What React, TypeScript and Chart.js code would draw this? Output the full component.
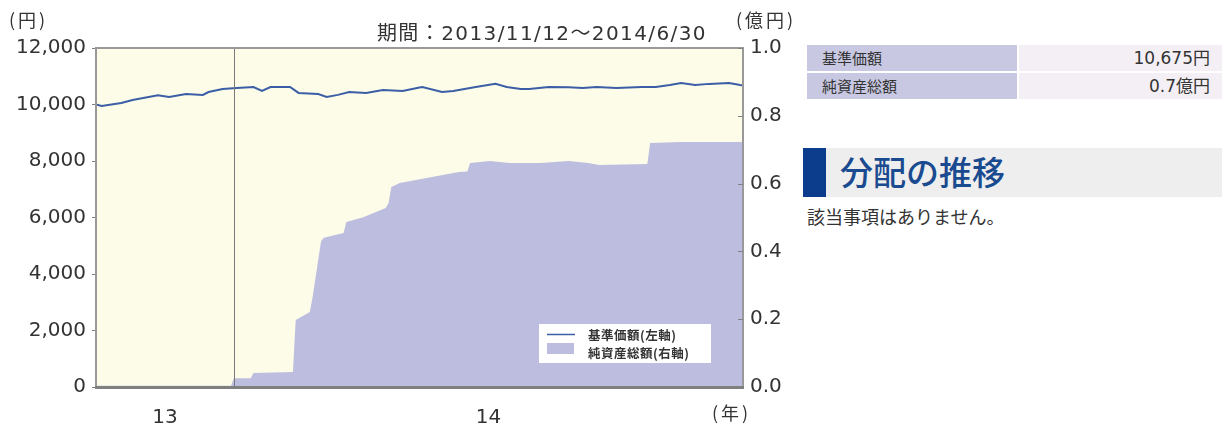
import React, { useEffect, useRef } from "react";
import { Chart, registerables } from "chart.js";

Chart.register(...registerables);

// days since 2013/11/12 (last day = 2014/6/30)
const periodLabel = "期間：2013/11/12～2014/6/30";
const totalDays = 230;
const yearBoundaryDay = 49; // 2014/1/1
const yearLabels = ["13", "14"];

const navDays = [0, 2, 9, 13, 22, 26, 32, 38, 40, 45, 50, 56, 59, 62, 69, 72, 79, 82, 86, 90, 96, 102, 109, 115, 116, 123, 127, 135, 142, 146, 151, 154, 161, 168, 173, 178, 185, 194, 199, 204, 208, 213, 218, 225, 229, 230];
const navValues = [10000, 9950, 10050, 10160, 10330, 10270, 10370, 10340, 10440, 10550, 10580, 10620, 10480, 10620, 10620, 10410, 10370, 10270, 10340, 10440, 10410, 10510, 10480, 10600, 10620, 10440, 10480, 10620, 10730, 10620, 10550, 10550, 10620, 10610, 10580, 10620, 10580, 10620, 10620, 10690, 10760, 10690, 10730, 10760, 10690, 10675];

const assetDays = [0, 48, 49, 55, 56, 70, 71, 76, 77, 80, 81, 88, 89, 95, 103, 104, 105, 108, 118, 129, 132, 133, 140, 147, 158, 168, 175, 179, 196, 197, 208, 230];
const assetValues = [0.004, 0.004, 0.026, 0.026, 0.041, 0.044, 0.198, 0.221, 0.265, 0.43, 0.44, 0.454, 0.487, 0.501, 0.528, 0.543, 0.59, 0.602, 0.617, 0.634, 0.636, 0.661, 0.667, 0.661, 0.661, 0.667, 0.661, 0.655, 0.658, 0.72, 0.723, 0.723];

const leftTicks = { min: 0, max: 12000, step: 2000 };
const rightTicks = { min: 0, max: 1, step: 0.2 };

const seriesNames = ["基準価額(左軸)", "純資産総額(右軸)"];
const tableLabels = ["基準価額", "純資産総額"];
const tableValues = ["10,675円", "0.7億円"];

const LINE_COLOR = "#3b5ea6";
const FILL_COLOR = "#bdbde0";
const PLOT_BG = "#fcfce8";
const AXIS_FONT = "'DejaVu Sans', 'Noto Sans CJK JP', sans-serif";
const JP_FONT = "'Noto Sans CJK JP', 'DejaVu Sans', sans-serif";

const chartDecor = {
  id: "chartDecor",
  beforeDatasetsDraw(chart: any) {
    const { ctx, chartArea: a } = chart;
    ctx.save();
    ctx.fillStyle = PLOT_BG;
    ctx.fillRect(a.left, a.top, a.right - a.left, a.bottom - a.top);
    ctx.restore();
  },
  afterDatasetsDraw(chart: any) {
    const { ctx, chartArea: a, scales } = chart;
    ctx.save();
    // year boundary
    const bx = Math.round(scales.x.getPixelForValue(yearBoundaryDay)) + 0.5;
    ctx.strokeStyle = "#7a7a7a";
    ctx.lineWidth = 1;
    ctx.beginPath();
    ctx.moveTo(bx, a.top);
    ctx.lineTo(bx, a.bottom);
    ctx.stroke();
    // border
    ctx.strokeStyle = "#999999";
    ctx.lineWidth = 2;
    ctx.strokeRect(a.left, a.top, a.right - a.left, a.bottom - a.top);
    ctx.strokeStyle = "#808080";
    ctx.lineWidth = 3;
    ctx.beginPath();
    ctx.moveTo(a.left - 1, a.bottom + 0.5);
    ctx.lineTo(a.right + 1, a.bottom + 0.5);
    ctx.stroke();
    // right axis inner ticks
    ctx.strokeStyle = "#808080";
    ctx.lineWidth = 1;
    const y1 = scales.y1;
    for (let v = rightTicks.min; v <= rightTicks.max + 1e-9; v += rightTicks.step) {
      const py = Math.round(y1.getPixelForValue(v)) + 0.5;
      ctx.beginPath();
      ctx.moveTo(a.right - 5, py);
      ctx.lineTo(a.right, py);
      ctx.stroke();
    }
    // legend
    const lx = a.right - 204;
    const ly = a.bottom - 63;
    ctx.fillStyle = "#ffffff";
    ctx.fillRect(lx, ly, 172, 39);
    ctx.strokeStyle = LINE_COLOR;
    ctx.lineWidth = 1.5;
    ctx.beginPath();
    ctx.moveTo(lx + 8, ly + 10.5);
    ctx.lineTo(lx + 36, ly + 10.5);
    ctx.stroke();
    ctx.fillStyle = FILL_COLOR;
    ctx.fillRect(lx + 8, ly + 19, 27, 11);
    ctx.fillStyle = "#333333";
    ctx.font = "bold 12.5px " + JP_FONT;
    ctx.textBaseline = "middle";
    ctx.textAlign = "left";
    (ctx as any).letterSpacing = "0.5px";
    ctx.fillText(seriesNames[0], lx + 49, ly + 11);
    ctx.fillText(seriesNames[1], lx + 49, ly + 29);
    ctx.restore();
  },
};

function ChartPanel() {
  const ref = useRef<HTMLCanvasElement | null>(null);
  useEffect(() => {
    if (!ref.current) return;
    const navData = navDays.map((d, i) => ({ x: d, y: navValues[i] }));
    const assetData = assetDays.map((d, i) => ({ x: d, y: assetValues[i] }));
    const chart = new Chart(ref.current, {
      type: "line",
      data: {
        datasets: [
          {
            label: seriesNames[0],
            data: navData,
            yAxisID: "y",
            borderColor: LINE_COLOR,
            borderWidth: 2,
            pointRadius: 0,
            tension: 0,
            fill: false,
          },
          {
            label: seriesNames[1],
            data: assetData,
            yAxisID: "y1",
            borderColor: FILL_COLOR,
            backgroundColor: FILL_COLOR,
            borderWidth: 0,
            pointRadius: 0,
            tension: 0,
            fill: "origin",
          },
        ],
      },
      options: {
        animation: false,
        responsive: false,
        maintainAspectRatio: false,
        layout: { padding: { top: 48, left: 0, right: 0, bottom: 0 } },
        plugins: { legend: { display: false }, tooltip: { enabled: false } },
        scales: {
          x: {
            type: "linear",
            min: 0,
            max: totalDays,
            grid: { display: false },
            border: { display: false },
            afterBuildTicks: (scale: any) => {
              scale.ticks = [
                { value: yearBoundaryDay / 2 },
                { value: (yearBoundaryDay + totalDays) / 2 },
              ];
            },
            afterFit: (scale: any) => {
              scale.height = 41;
            },
            ticks: {
              autoSkip: false,
              maxRotation: 0,
              padding: 11,
              color: "#333333",
              font: { family: AXIS_FONT, size: 20 },
              callback: (_v: any, i: number) => yearLabels[i],
            },
          },
          y: {
            position: "left",
            min: leftTicks.min,
            max: leftTicks.max,
            afterFit: (scale: any) => {
              scale.width = 96;
            },
            grid: { drawOnChartArea: false, tickLength: 4, color: "#808080" },
            border: { display: false },
            ticks: {
              stepSize: leftTicks.step,
              padding: 6,
              color: "#333333",
              font: { family: AXIS_FONT, size: 20 },
              callback: (v: any) => Number(v).toLocaleString("en-US"),
            },
          },
          y1: {
            position: "right",
            min: rightTicks.min,
            max: rightTicks.max,
            afterFit: (scale: any) => {
              scale.width = 57;
            },
            grid: { drawOnChartArea: false, drawTicks: false },
            border: { display: false },
            ticks: {
              stepSize: rightTicks.step,
              padding: 7,
              color: "#333333",
              font: { family: AXIS_FONT, size: 20 },
              callback: (v: any) => Number(v).toFixed(1),
            },
          },
        },
      },
      plugins: [chartDecor],
    } as any);
    return () => chart.destroy();
  }, []);
  return <canvas ref={ref} width={800} height={428} style={{ position: "absolute", left: 0, top: 0, width: 800, height: 428 }} />;
}

export default function App() {
  useEffect(() => {
    document.body.style.margin = "0";
  }, []);
  const txt: React.CSSProperties = { position: "absolute", color: "#333", whiteSpace: "nowrap", lineHeight: 1 };
  return (
    <div style={{ position: "fixed", left: 0, top: 0, width: 1222, height: 428, background: "#fff", overflow: "hidden" }}>
      <ChartPanel />
      <div style={{ ...txt, left: 9, top: 10, fontSize: 18, letterSpacing: 3, fontFamily: JP_FONT }}>(円)</div>
      <div style={{ ...txt, left: 736, top: 10, fontSize: 18, letterSpacing: 3, fontFamily: JP_FONT }}>(億円)</div>
      <div style={{ ...txt, right: 1222 - 707, top: 23, fontSize: 20, letterSpacing: 1.4, fontFamily: AXIS_FONT }}>{periodLabel}</div>
      <div style={{ ...txt, left: 712, top: 403, fontSize: 18, letterSpacing: 3, fontFamily: JP_FONT }}>(年)</div>

      {/* right panel table */}
      <div style={{ position: "absolute", left: 807, top: 45, width: 415 }}>
        {tableLabels.map((lab, i) => (
          <div key={lab} style={{ display: "flex", height: 26, marginBottom: i === 0 ? 2 : 0 }}>
            <div style={{ width: 210, background: "#c8c8e2", fontFamily: JP_FONT, fontSize: 15, color: "#333", paddingLeft: 15, boxSizing: "border-box", lineHeight: "26px" }}>{lab}</div>
            <div style={{ flex: 1, background: "#f4eff4", fontFamily: AXIS_FONT, fontSize: 17, color: "#333", textAlign: "right", paddingRight: 12, lineHeight: "26px", marginLeft: 2 }}>
              {tableValues[i]}
            </div>
          </div>
        ))}
      </div>

      {/* heading */}
      <div style={{ position: "absolute", left: 803, top: 148, width: 419, height: 49, background: "#eeeeee" }}>
        <div style={{ position: "absolute", left: 0, top: 0, width: 23, height: 49, background: "#0c3c8c" }} />
        <div style={{ position: "absolute", left: 37, top: 7, fontSize: 33, lineHeight: "33px", color: "#1a4a8f", fontFamily: JP_FONT, fontWeight: 500 }}>分配の推移</div>
      </div>
      <div style={{ ...txt, left: 807, top: 207, fontSize: 18, fontFamily: JP_FONT }}>該当事項はありません。</div>
    </div>
  );
}
